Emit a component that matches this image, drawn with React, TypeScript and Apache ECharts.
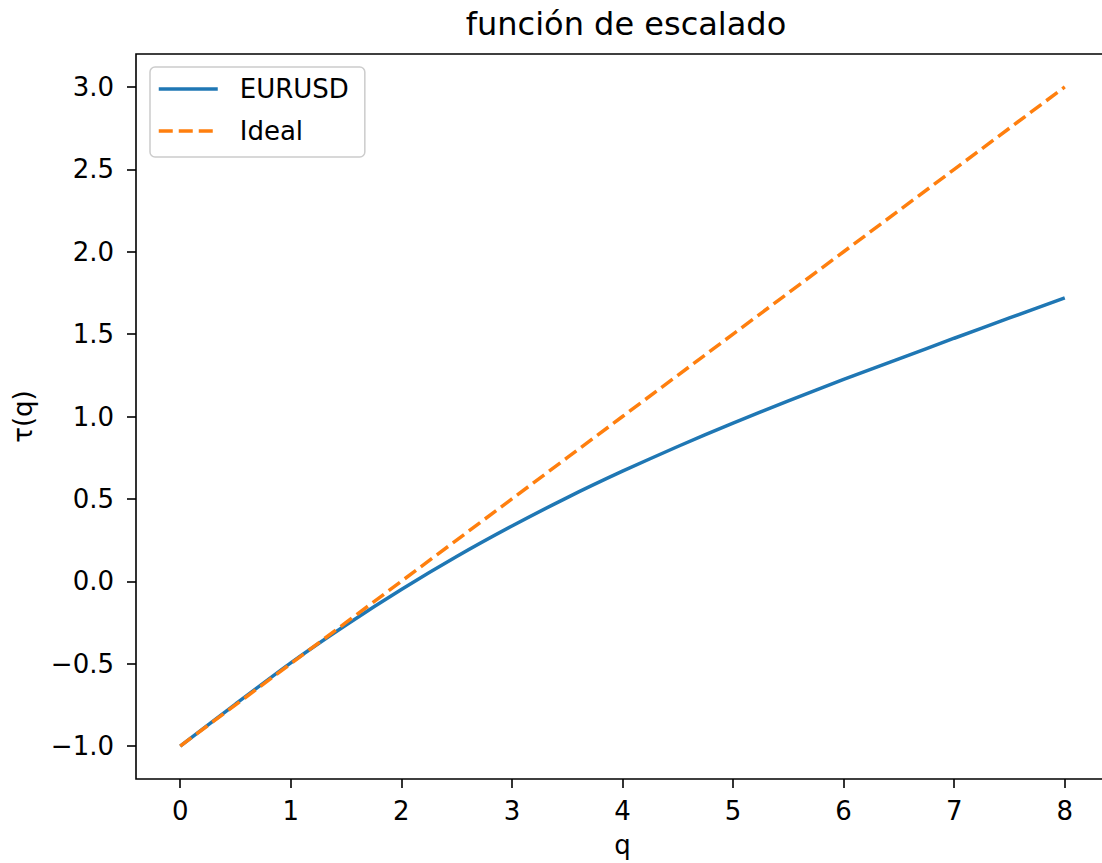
import React, { useEffect, useRef } from "react";
import * as echarts from "echarts";

// Moment orders q
const qValues = [0, 0.5, 1, 1.5, 2, 2.5, 3, 3.5, 4, 4.5, 5, 5.5, 6, 6.5, 7, 7.5, 8];
// Estimated scaling function tau(q) for EURUSD
const eurusdTau = [
  -1.0, -0.745, -0.495, -0.265, -0.05, 0.15, 0.335, 0.508, 0.668, 0.818, 0.96, 1.095,
  1.225, 1.35, 1.475, 1.598, 1.72,
];
// Monofractal reference line
const idealTau = [
  -1.0, -0.75, -0.5, -0.25, 0.0, 0.25, 0.5, 0.75, 1.0, 1.25, 1.5, 1.75, 2.0, 2.25, 2.5,
  2.75, 3.0,
];
const xTicks = [0, 1, 2, 3, 4, 5, 6, 7, 8];
const yTicks = [-1.0, -0.5, 0.0, 0.5, 1.0, 1.5, 2.0, 2.5, 3.0];

const FONT = "DejaVu Sans";
const fmt = (v: number, digits: number) => {
  const s = Math.abs(v).toFixed(digits);
  return v < 0 ? "\u2212" + s : s;
};

export default function App() {
  const ref = useRef<HTMLDivElement>(null);

  useEffect(() => {
    if (!ref.current) return;
    const chart = echarts.init(ref.current, null, { renderer: "svg" });
    const tickFont = { fontFamily: FONT, fontSize: 26, color: "#000" };
    const tickLine = { color: "#000", width: 1.6 };

    chart.setOption({
      animation: false,
      backgroundColor: "#fff",
      title: {
        text: "función de escalado",
        left: 621,
        top: 3,
        textAlign: "center",
        textStyle: { fontFamily: FONT, fontSize: 32, fontWeight: "normal", color: "#000" },
      },
      legend: {
        orient: "vertical",
        left: 150,
        top: 67,
        padding: [8, 16, 12, 7],
        itemWidth: 59,
        itemHeight: 14,
        itemGap: 14,
        backgroundColor: "rgba(255,255,255,0.8)",
        borderColor: "#cccccc",
        borderWidth: 1.5,
        borderRadius: 5,
        itemStyle: { opacity: 0 },
        lineStyle: { width: 3.5 },
        textStyle: {
          fontFamily: FONT,
          fontSize: 26,
          color: "#000",
          lineHeight: 28,
          padding: [0, 0, 0, 17],
        },
        data: ["EURUSD", "Ideal"],
      },
      // The frame's right edge runs just past the visible width.
      grid: {
        left: 136,
        top: 54,
        width: 973,
        height: 725,
        show: true,
        borderColor: "#000",
        borderWidth: 1.6,
        containLabel: false,
        outerBoundsMode: "none",
      },
      xAxis: {
        type: "value",
        min: -0.4,
        max: 8.4,
        name: "q",
        nameLocation: "middle",
        nameGap: 54,
        nameTextStyle: { fontFamily: FONT, fontSize: 26, color: "#000", lineHeight: 24 },
        axisLine: { show: false, onZero: false },
        splitLine: { show: false },
        axisTick: {
          show: true,
          inside: false,
          length: 9,
          lineStyle: tickLine,
          customValues: xTicks,
        },
        axisLabel: {
          ...tickFont,
          margin: 19,
          customValues: xTicks,
          formatter: (v: number) => fmt(v, 0),
        },
      },
      yAxis: {
        type: "value",
        min: -1.2,
        max: 3.2,
        name: "τ(q)",
        nameLocation: "middle",
        nameRotate: 90,
        nameGap: 100,
        nameTextStyle: { fontFamily: FONT, fontSize: 26, color: "#000" },
        axisLine: { show: false, onZero: false },
        splitLine: { show: false },
        axisTick: {
          show: true,
          inside: false,
          length: 9,
          lineStyle: tickLine,
          customValues: yTicks,
        },
        axisLabel: {
          ...tickFont,
          margin: 22,
          customValues: yTicks,
          formatter: (v: number) => fmt(v, 1),
        },
      },
      series: [
        {
          name: "EURUSD",
          type: "line",
          data: qValues.map((q, i) => [q, eurusdTau[i]]),
          smooth: 0.2,
          showSymbol: false,
          symbol: "none",
          color: "#1f77b4",
          lineStyle: { color: "#1f77b4", width: 3.5 },
          z: 2,
        },
        {
          name: "Ideal",
          type: "line",
          data: qValues.map((q, i) => [q, idealTau[i]]),
          showSymbol: false,
          symbol: "none",
          color: "#ff7f0e",
          lineStyle: { color: "#ff7f0e", width: 3.5, type: [14, 6] },
          z: 3,
        },
      ],
    });

    return () => chart.dispose();
  }, []);

  return (
    <div
      ref={ref}
      style={{ position: "fixed", left: 0, top: 0, width: 1102, height: 863, overflow: "hidden" }}
    />
  );
}
